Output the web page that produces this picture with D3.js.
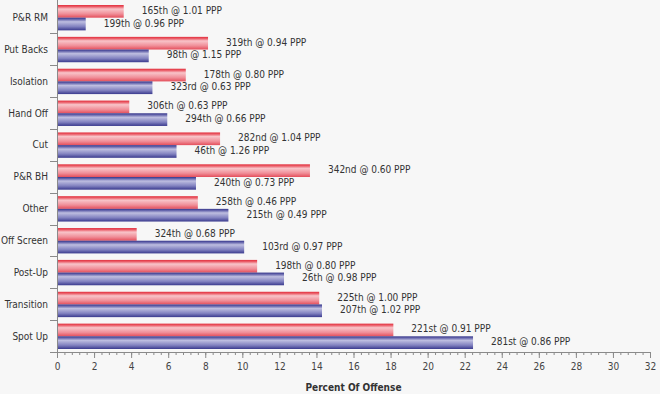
<!DOCTYPE html>
<html>
<head>
<meta charset="utf-8">
<script src="https://cdn.jsdelivr.net/npm/d3@7"></script>
<style>
  html, body { margin: 0; padding: 0; background: #f7f7f7; }
  #vis { width: 660px; height: 394px; }
  text { font-family: "DejaVu Sans Condensed", "DejaVu Sans", sans-serif; fill: #333; }
  .axis path, .axis line { stroke: #8a8a8a; }
</style>
</head>
<body>
<div id="vis"></div>
<script>
const categories = ['P&R RM', 'Put Backs', 'Isolation', 'Hand Off', 'Cut', 'P&R BH', 'Other', 'Off Screen', 'Post-Up', 'Transition', 'Spot Up'];
const redValues = [3.6, 8.15, 6.95, 3.9, 8.8, 13.65, 7.6, 4.3, 10.8, 14.15, 18.15];
const blueValues = [1.55, 4.95, 5.15, 5.95, 6.45, 7.5, 9.25, 10.1, 12.25, 14.3, 22.45];
const redLabels = ['165th @ 1.01 PPP', '319th @ 0.94 PPP', '178th @ 0.80 PPP', '306th @ 0.63 PPP', '282nd @ 1.04 PPP', '342nd @ 0.60 PPP', '258th @ 0.46 PPP', '324th @ 0.68 PPP', '198th @ 0.80 PPP', '225th @ 1.00 PPP', '221st @ 0.91 PPP'];
const blueLabels = ['199th @ 0.96 PPP', '98th @ 1.15 PPP', '323rd @ 0.63 PPP', '294th @ 0.66 PPP', '46th @ 1.26 PPP', '240th @ 0.73 PPP', '215th @ 0.49 PPP', '103rd @ 0.97 PPP', '26th @ 0.98 PPP', '207th @ 1.02 PPP', '281st @ 0.86 PPP'];
const xMajorTicks = d3.range(0, 33, 2);
const xTitle = 'Percent Of Offense';

const width = 660, height = 394;
const margin = { top: 1.5, left: 57, right: 10, bottom: 42 };

const svg = d3.select('#vis').append('svg')
  .attr('width', width)
  .attr('height', height);

const defs = svg.append('defs');
function gradient(id, stops) {
  const g = defs.append('linearGradient').attr('id', id)
    .attr('x1', 0).attr('y1', 0).attr('x2', 0).attr('y2', 1);
  stops.forEach(s => g.append('stop').attr('offset', s[0]).attr('stop-color', s[1]));
}
gradient('redGrad', [[0, '#e22f3c'], [0.12, '#ea5864'], [0.32, '#f8c4c9'], [0.7, '#f08e98'], [1, '#e44e5b']]);
gradient('blueGrad', [[0, '#35358a'], [0.12, '#6262aa'], [0.32, '#bebee0'], [0.7, '#8282c0'], [1, '#3a3a8e']]);

const x = d3.scaleLinear()
  .domain([0, 32])
  .range([margin.left, width - margin.right]);

const y = d3.scaleBand()
  .domain(categories)
  .range([margin.top, height - margin.bottom])
  .padding(0);

// inner split of each band: red on top, blue below
const sub = d3.scaleBand()
  .domain(['red', 'blue'])
  .range([3.5, y.bandwidth() - 3])
  .padding(0);

// x axis: minor then major ticks
const axisY = height - margin.bottom;
svg.append('g')
  .attr('class', 'axis')
  .attr('transform', 'translate(0,' + axisY + ')')
  .call(d3.axisBottom(x).tickValues(d3.range(0, 32.01, 0.4)).tickSize(3).tickFormat('').tickSizeOuter(0))
  .call(g => g.select('.domain').remove());

svg.append('g')
  .attr('class', 'axis')
  .attr('transform', 'translate(0,' + axisY + ')')
  .call(d3.axisBottom(x).tickValues(xMajorTicks).tickSize(6).tickSizeOuter(0))
  .call(g => g.select('.domain').attr('d', 'M' + (margin.left - 1) + ',0.5H' + x(32)))
  .call(g => g.selectAll('text').attr('y', 11).attr('dy', '0.71em').attr('font-size', 10).style('fill', '#444'));

svg.append('text')
  .attr('x', (x(0) + x(32)) / 2)
  .attr('y', 391)
  .attr('text-anchor', 'middle')
  .attr('font-size', 10)
  .attr('font-weight', 'bold')
  .text(xTitle);

// y axis: line, ticks at band edges, category names
const yAxis = svg.append('g').attr('class', 'axis');
yAxis.append('line')
  .attr('x1', x(0) + 0.5).attr('x2', x(0) + 0.5)
  .attr('y1', 0).attr('y2', axisY);
yAxis.selectAll('.ytick')
  .data(categories)
  .join('line')
  .attr('class', 'ytick')
  .attr('x1', x(0) - 7).attr('x2', x(0))
  .attr('y1', d => Math.round(y(d) + y.bandwidth()) + 0.5)
  .attr('y2', d => Math.round(y(d) + y.bandwidth()) + 0.5);

svg.selectAll('.cat')
  .data(categories)
  .join('text')
  .attr('class', 'cat')
  .attr('x', x(0) - 9)
  .attr('y', d => y(d) + y.bandwidth() / 2)
  .attr('dy', '0.35em')
  .attr('text-anchor', 'end')
  .attr('font-size', 10)
  .text(d => d);

function drawSeries(name, values, labels, fill) {
  const bars = categories.map((c, i) => ({ c: c, v: values[i], label: labels[i] }));
  svg.selectAll('.bar-' + name)
    .data(bars)
    .join('rect')
    .attr('class', 'bar-' + name)
    .attr('x', x(0) + 1)
    .attr('y', d => y(d.c) + sub(name))
    .attr('width', d => x(d.v) - x(0) - 1)
    .attr('height', sub.bandwidth())
    .attr('fill', fill);

  svg.selectAll('.lbl-' + name)
    .data(bars)
    .join('text')
    .attr('class', 'lbl-' + name)
    .attr('x', d => x(d.v) + 18)
    .attr('y', d => y(d.c) + sub(name) + sub.bandwidth() / 2 - 1)
    .attr('dy', '0.35em')
    .attr('font-size', 10)
    .text(d => d.label);
}

drawSeries('red', redValues, redLabels, 'url(#redGrad)');
drawSeries('blue', blueValues, blueLabels, 'url(#blueGrad)');
</script>
</body>
</html>
